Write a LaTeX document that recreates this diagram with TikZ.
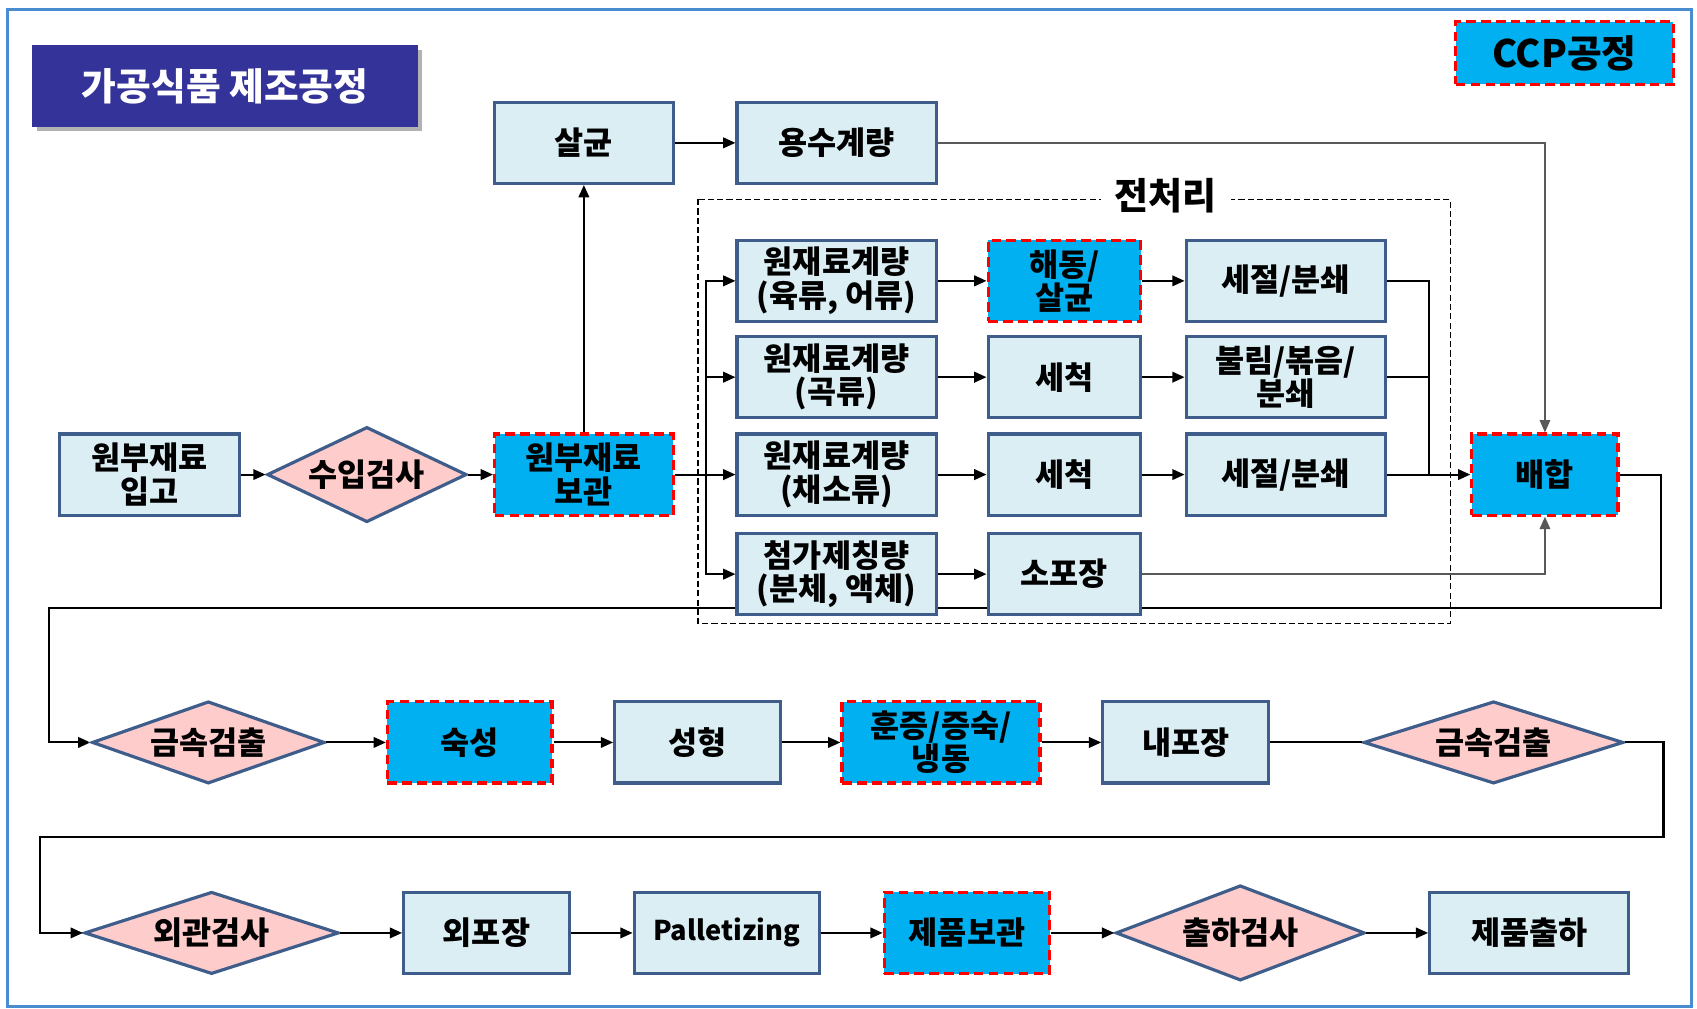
\documentclass[tikz,border=0pt]{standalone}
\usepackage{fontspec}
\setmainfont{Noto Sans CJK KR}
\usepackage{xcolor}
\usepackage{tikz}
\usetikzlibrary{arrows.meta,shapes.geometric,shadows,backgrounds}

\definecolor{boxfill}{RGB}{219,238,244}
\definecolor{boxline}{RGB}{62,93,138}
\definecolor{ccpblue}{RGB}{0,176,240}
\definecolor{ccpred}{RGB}{255,0,0}
\definecolor{checkpink}{RGB}{255,204,204}
\definecolor{titleblue}{RGB}{51,51,153}
\definecolor{frameblue}{RGB}{74,140,210}

\def\pu{0.021646cm}

\tikzset{%
      stepbox/.style = { draw=boxline, fill=boxfill, line width=1.8pt, minimum height=75*\pu,
                         align=center, inner sep=1pt, font=\bfseries\fontsize{18}{19}\selectfont },
          ccp/.style = { stepbox, draw=ccpred, fill=ccpblue, dash pattern=on 5.5pt off 3pt },
        check/.style = { diamond, draw=boxline, fill=checkpink, line width=1.8pt, inner sep=0pt,
                         aspect=2.8, font=\bfseries\fontsize{18}{19}\selectfont },
         link/.style = { line width=1.2pt },
         flow/.style = { link, -> },
         feed/.style = { line width=0.8pt, black!65, -> },
     pretreat/.style = { line width=0.7pt, dash pattern=on 3.5pt off 1.8pt }
}

\begin{document}
\begin{tikzpicture}[x=\pu,y=-\pu,line join=miter,>={Triangle[length=7pt,width=6pt]}]
\useasboundingbox (0,0) rectangle (1568,932);
\begin{pgfonlayer}{background}
\fill[white] (0,0) rectangle (1568,932);
\end{pgfonlayer}
\draw[frameblue, line width=1.5pt] (7,9) rectangle (1563,930);

% title and legend
\node[fill=titleblue, minimum width=356*\pu, minimum height=75*\pu, text=white,
      font=\bfseries\fontsize{21.5}{24}\selectfont,
      drop shadow={fill=black!30, opacity=1, shadow xshift=2.5pt, shadow yshift=-2.5pt}] (title) at (208,79.5) {가공식품 제조공정};
\node[ccp, minimum width=201*\pu, minimum height=58*\pu, font=\bfseries\fontsize{21.5}{24}\selectfont] (legend) at (1445.5,49) {CCP공정};

% pretreatment frame
\draw[pretreat] (645,184) rectangle (1340,576);
\node[fill=white, inner xsep=8pt, font=\bfseries\fontsize{21}{24}\selectfont] (pre) at (1077,181) {전처리};

% upper part
\node[stepbox, minimum width=165*\pu] (sal) at (539.5,132) {살균};
\node[stepbox, minimum width=184*\pu] (yong) at (773,132) {용수계량};
\node[stepbox, minimum width=166*\pu] (in) at (138,438.5) {원부재료\\입고};
\node[check, minimum width=178*\pu, minimum height=88*\pu] (chk) at (339,438.5) {수입검사};
\node[ccp, minimum width=165*\pu] (store) at (539.5,438.5) {원부재료\\보관};

\node[stepbox, minimum width=184*\pu] (m1) at (773,259.5) {원재료계량\\(육류, 어류)};
\node[stepbox, minimum width=184*\pu] (m2) at (773,348.5) {원재료계량\\(곡류)};
\node[stepbox, minimum width=184*\pu] (m3) at (773,438.5) {원재료계량\\(채소류)};
\node[stepbox, minimum width=184*\pu] (m4) at (773,530.5) {첨가제칭량\\(분체, 액체)};

\node[ccp, minimum width=141*\pu] (thaw) at (983.5,259.5) {해동/\\살균};
\node[stepbox, minimum width=141*\pu] (wash1) at (983.5,348.5) {세척};
\node[stepbox, minimum width=141*\pu] (wash2) at (983.5,438.5) {세척};
\node[stepbox, minimum width=141*\pu] (pack1) at (983.5,530.5) {소포장};

\node[stepbox, minimum width=184*\pu] (cut1) at (1188,259.5) {세절/분쇄};
\node[stepbox, minimum width=184*\pu] (roast) at (1188,348.5) {불림/볶음/\\분쇄};
\node[stepbox, minimum width=184*\pu] (cut2) at (1188,438.5) {세절/분쇄};

\node[ccp, minimum width=135*\pu] (mix) at (1427.5,438.5) {배합};

% middle row
\node[check, minimum width=215*\pu, minimum height=76*\pu] (metal1) at (192.5,686) {금속검출};
\node[ccp, minimum width=152*\pu] (age) at (434,686) {숙성};
\node[stepbox, minimum width=153*\pu] (form) at (644.5,686) {성형};
\node[ccp, minimum width=183*\pu] (steam) at (869.5,686) {훈증/증숙/\\냉동};
\node[stepbox, minimum width=153*\pu] (inpack) at (1095.5,686) {내포장};
\node[check, minimum width=240*\pu, minimum height=76*\pu] (metal2) at (1380,686) {금속검출};

% lower row
\node[check, minimum width=235*\pu, minimum height=76*\pu] (look) at (195.5,862) {외관검사};
\node[stepbox, minimum width=153*\pu] (outpack) at (449.5,862) {외포장};
\node[stepbox, minimum width=171*\pu, font=\bfseries\fontsize{15.5}{18}\selectfont] (pallet) at (671.5,862) {Palletizing};
\node[ccp, minimum width=153*\pu] (keep) at (893.5,862) {제품보관};
\node[check, minimum width=230*\pu, minimum height=88*\pu] (ship) at (1146,862) {출하검사};
\node[stepbox, minimum width=184*\pu] (out) at (1413,862) {제품출하};

\coordinate (split) at (652,438.5);
\coordinate (merge) at (1320,438.5);
\coordinate (r1) at (1535,562);
\coordinate (l1) at (45,562);
\coordinate (r2) at (1537,773);
\coordinate (l2) at (37,773);

\draw[flow] (in) -- (chk);
\draw[flow] (chk) -- (store);
\draw[flow] (store) -- (sal);
\draw[flow] (sal) -- (yong);
\draw[flow] (store) -- (m3);
\draw[flow] (split) |- (m1.west);
\draw[flow] (split) |- (m2.west);
\draw[flow] (split) |- (m4.west);

\draw[flow] (m1) -- (thaw);
\draw[flow] (thaw) -- (cut1);
\draw[flow] (m2) -- (wash1);
\draw[flow] (wash1) -- (roast);
\draw[flow] (m3) -- (wash2);
\draw[flow] (wash2) -- (cut2);
\draw[flow] (m4) -- (pack1);

\draw[link] (cut1.east) -| (merge);
\draw[link] (roast.east) -| (merge);
\draw[flow] (cut2) -- (mix);
\draw[feed] (yong.east) -| (mix.north);
\draw[feed] (pack1.east) -| (mix.south);

% return line runs behind the lowest boxes
\begin{pgfonlayer}{background}
\draw[flow] (mix.east) -| (r1) -- (l1) |- (metal1.west);
\end{pgfonlayer}

\draw[flow] (metal1) -- (age);
\draw[flow] (age) -- (form);
\draw[flow] (form) -- (steam);
\draw[flow] (steam) -- (inpack);
\draw[link] (inpack) -- (metal2);
\draw[flow] (metal2.east) -| (r2) -- (l2) |- (look.west);

\draw[flow] (look) -- (outpack);
\draw[flow] (outpack) -- (pallet);
\draw[flow] (pallet) -- (keep);
\draw[flow] (keep) -- (ship);
\draw[flow] (ship) -- (out);
\end{tikzpicture}
\end{document}
